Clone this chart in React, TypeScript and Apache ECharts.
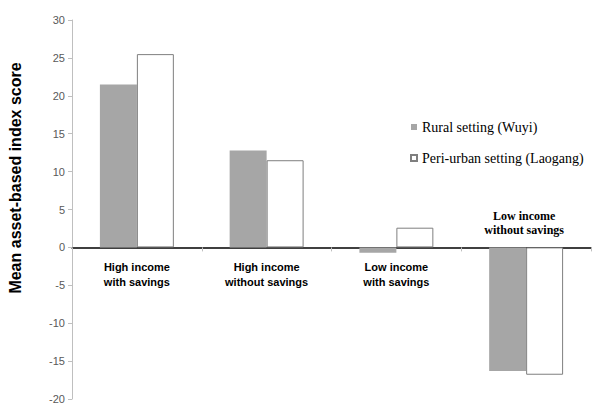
import React, { useEffect, useRef } from "react";
import * as echarts from "echarts";

const categories = [
  "High income\nwith savings",
  "High income\nwithout savings",
  "Low income\nwith savings",
  "Low income\nwithout savings",
];
const ruralValues = [21.5, 12.8, -0.7, -16.3];
const periUrbanValues = [25.5, 11.5, 2.6, -16.8];
const seriesNames = ["Rural setting (Wuyi)", "Peri-urban setting (Laogang)"];
const yTicks = { min: -20, max: 30, interval: 5 };
const yTitle = "Mean asset-based index score";

export default function App() {
  const ref = useRef<HTMLDivElement>(null);
  useEffect(() => {
    if (!ref.current) return;
    const chart = echarts.init(ref.current, null, { renderer: "svg" });
    const option: any = {
      animation: false,
      backgroundColor: "#ffffff",
      grid: { left: 72, right: 9, top: 20, bottom: 13, containLabel: false, outerBoundsMode: "none" },
      legend: {
        orient: "vertical",
        left: 405,
        top: 115,
        itemWidth: 6,
        itemHeight: 6,
        itemGap: 17,
        icon: "rect",
        textStyle: { fontFamily: "Liberation Serif", fontSize: 14, color: "#000" },
        data: seriesNames,
      },
      xAxis: {
        type: "category",
        data: categories,
        axisLine: { onZero: true, lineStyle: { color: "#000", width: 1.5 } },
        axisTick: { show: true, length: 4, lineStyle: { color: "#bfbfbf" } },
        axisLabel: { show: false },
        splitLine: { show: false },
      },
      yAxis: {
        type: "value",
        min: yTicks.min,
        max: yTicks.max,
        interval: yTicks.interval,
        axisLine: { show: true, lineStyle: { color: "#bfbfbf" } },
        axisTick: { show: true, length: 4, lineStyle: { color: "#bfbfbf" } },
        axisLabel: { margin: 7, fontFamily: "Liberation Sans", fontSize: 11, color: "#595959" },
        splitLine: { show: false },
      },
      series: [
        {
          name: seriesNames[0],
          type: "bar",
          data: ruralValues,
          barGap: "0%",
          barCategoryGap: "43%",
          itemStyle: { color: "#a6a6a6" },
        },
        {
          name: seriesNames[1],
          type: "bar",
          data: periUrbanValues,
          barGap: "0%",
          barCategoryGap: "43%",
          itemStyle: { color: "#ffffff", borderColor: "#7f7f7f", borderWidth: 1 },
        },
      ],
    };
    chart.setOption(option);
    const graphics: any[] = categories.map((c, i) => {
      const p = chart.convertToPixel({ xAxisIndex: 0, yAxisIndex: 0 }, [i, 0]) as number[];
      if (i === 3) {
        return {
          type: "text",
          x: p[0] - 2,
          y: p[1] - 38,
          style: {
            text: c,
            fontFamily: "Liberation Serif",
            fontWeight: "bold",
            fontSize: 12,
            lineHeight: 14,
            fill: "#000",
            align: "center",
          },
        };
      }
      return {
        type: "text",
        x: p[0],
        y: p[1] + 12,
        style: {
          text: c,
          fontFamily: "Liberation Sans",
          fontWeight: "bold",
          fontSize: 11,
          lineHeight: 15,
          fill: "#000",
          align: "center",
        },
      };
    });
    graphics.push({
      type: "text",
      x: 15,
      y: 178,
      rotation: Math.PI / 2,
      style: {
        text: yTitle,
        fontFamily: "Liberation Sans",
        fontWeight: "bold",
        fontSize: 16,
        fill: "#000",
        align: "center",
        verticalAlign: "middle",
      },
    });
    chart.setOption({ graphic: graphics });
    return () => chart.dispose();
  }, []);
  return <div ref={ref} style={{ width: 600, height: 412, position: "absolute", left: 0, top: 0 }} />;
}
